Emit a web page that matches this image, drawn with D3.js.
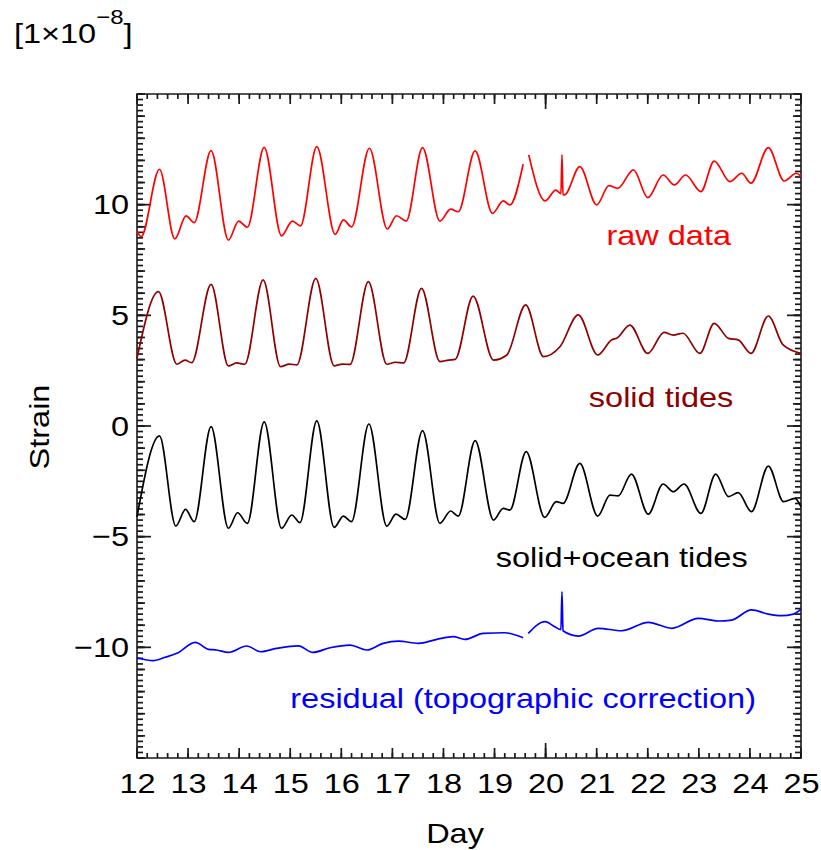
<!DOCTYPE html>
<html>
<head>
<meta charset="utf-8">
<script src="https://cdn.jsdelivr.net/npm/d3@7"></script>
<style>
  body { margin: 0; background: #fff; }
  text { font-family: "Liberation Sans", Arial, sans-serif; }
</style>
</head>
<body>
<div id="chart"></div>
<script>
// tick labels
const dayTicks = [12, 13, 14, 15, 16, 17, 18, 19, 20, 21, 22, 23, 24, 25];
const strainTicks = [-10, -5, 0, 5, 10];

// series: [day, strain (1e-8)], null = gap in the record
const rawData = [
  [12.00, 8.80], [12.08, 8.55], [12.44, 11.60], [12.74, 8.45], [12.96, 9.49], [13.12, 9.19],
  [13.45, 12.44], [13.79, 8.40], [13.99, 9.26], [14.16, 8.98], [14.49, 12.59], [14.83, 8.59],
  [15.04, 9.26], [15.20, 9.04], [15.52, 12.62], [15.88, 8.66], [16.04, 9.31], [16.20, 9.00],
  [16.55, 12.55], [16.90, 8.90], [17.08, 9.50], [17.27, 9.26], [17.59, 12.58], [17.93, 9.26],
  [18.14, 9.80], [18.29, 9.68], [18.62, 12.43], [18.96, 9.61], [19.17, 10.17], [19.30, 9.99],
  [19.56, 11.83], null, [19.67, 12.25], [19.99, 10.17], [20.20, 10.66], [20.30, 10.50],
  [20.32, 12.25], [20.34, 10.45], [20.37, 10.44], [20.67, 11.72], [21.00, 9.99], [21.24, 10.86],
  [21.41, 10.74], [21.72, 11.57], [22.00, 10.32], [22.30, 11.34], [22.52, 10.89], [22.74, 11.34],
  [23.04, 10.59], [23.30, 11.97], [23.61, 11.04], [23.84, 11.42], [24.02, 10.97], [24.36, 12.58],
  [24.67, 11.07], [24.91, 11.42], [25.00, 11.27]
];
const solidTides = [
  [12.00, 3.06], [12.42, 6.07], [12.78, 2.79], [12.94, 2.98], [13.07, 2.86], [13.45, 6.40],
  [13.79, 2.71], [13.95, 2.85], [14.11, 2.79], [14.47, 6.60], [14.81, 2.68], [14.98, 2.80],
  [15.13, 2.76], [15.50, 6.67], [15.86, 2.72], [16.02, 2.80], [16.17, 2.78], [16.53, 6.52],
  [16.89, 2.79], [17.06, 2.88], [17.22, 2.85], [17.57, 6.22], [17.93, 2.91], [18.10, 2.98],
  [18.23, 3.01], [18.58, 5.87], [18.98, 2.98], [19.24, 3.21], [19.61, 5.47], [19.96, 3.13],
  [20.28, 3.58], [20.64, 5.02], [21.02, 3.21], [21.29, 3.89], [21.40, 3.98], [21.65, 4.56],
  [22.00, 3.28], [22.32, 4.23], [22.50, 4.11], [22.69, 4.19], [23.02, 3.28], [23.30, 4.64],
  [23.58, 3.96], [23.77, 3.89], [24.02, 3.28], [24.36, 4.97], [24.65, 3.66], [25.00, 3.28]
];
const oceanTides = [
  [12.00, -4.10], [12.44, -0.45], [12.76, -4.52], [12.95, -3.77], [13.12, -4.32], [13.45, -0.03],
  [13.79, -4.62], [13.97, -3.92], [14.16, -4.40], [14.49, 0.19], [14.83, -4.62], [15.03, -4.02],
  [15.19, -4.37], [15.52, 0.23], [15.86, -4.58], [16.04, -4.07], [16.20, -4.32], [16.54, 0.09],
  [16.89, -4.52], [17.07, -3.98], [17.25, -4.22], [17.59, -0.21], [17.93, -4.40], [18.14, -3.84],
  [18.29, -4.07], [18.62, -0.66], [18.98, -4.25], [19.17, -3.72], [19.30, -3.80], [19.62, -1.16],
  [19.98, -4.13], [20.21, -3.42], [20.34, -3.50], [20.67, -1.69], [21.02, -4.07], [21.26, -3.12],
  [21.42, -3.16], [21.68, -2.17], [22.01, -3.98], [22.30, -2.62], [22.50, -2.97], [22.71, -2.62],
  [23.04, -3.95], [23.33, -2.17], [23.58, -3.19], [23.77, -3.01], [24.03, -3.87], [24.36, -1.81],
  [24.66, -3.42], [24.88, -3.27], [25.00, -3.65]
];
const residual = [
  [12.00, -10.47], [12.32, -10.60], [12.55, -10.45], [12.78, -10.27], [13.14, -9.78], [13.40, -10.09],
  [13.56, -10.12], [13.79, -10.23], [14.15, -9.94], [14.42, -10.20], [14.73, -10.05], [15.16, -9.93],
  [15.44, -10.23], [15.78, -10.02], [16.17, -9.90], [16.50, -10.12], [16.82, -9.82], [17.12, -9.72],
  [17.51, -9.82], [17.87, -9.64], [18.19, -9.52], [18.42, -9.64], [18.78, -9.37], [19.20, -9.34],
  [19.56, -9.57], null, [19.66, -9.37], [19.99, -8.84], [20.18, -9.07], [20.30, -9.20],
  [20.32, -7.49], [20.34, -9.25], [20.64, -9.49], [21.03, -9.14], [21.49, -9.25], [22.01, -8.87],
  [22.47, -9.14], [22.99, -8.69], [23.38, -8.81], [23.64, -8.77], [24.03, -8.31], [24.36, -8.50],
  [24.62, -8.57], [24.85, -8.50], [25.00, -8.27]
];

const series = [
  {name: "raw data", data: rawData, color: "#ff0000", at: [22.41, 8.18]},
  {name: "solid tides", data: solidTides, color: "#8f0000", at: [22.26, 0.87]},
  {name: "solid+ocean tides", data: oceanTides, color: "#000000", at: [21.49, -6.36]},
  {name: "residual (topographic correction)", data: residual, color: "#0000ff", at: [19.56, -12.76]}
];

const W = 821, H = 850;
const fs = 28.5, sx = 1.14; // text is a bit wide in the original
const m = {left: 137, top: 94, right: 801, bottom: 758};

const svg = d3.select("#chart").append("svg")
  .attr("width", W)
  .attr("height", H);

const x = d3.scaleLinear().domain([12, 25]).range([m.left, m.right]);
const y = d3.scaleLinear().domain([-15, 15]).range([m.bottom, m.top]);

const minorDays = d3.range(12, 25.001, 0.2);
const minorStrain = d3.range(-15, 15.001, 0.25);
const midStrain = d3.range(-15, 16, 1);

// frame
svg.append("path")
  .attr("d", `M${m.left},${m.top}H${m.right}V${m.bottom}H${m.left}Z`)
  .attr("fill", "none").attr("stroke", "#1a1a1a").attr("stroke-width", 1.6);

// ticks on all four sides, pointing inwards, as thin filled bars
const tw = 1.7;
const tickSpecs = [];
[[minorDays, 5], [dayTicks, 10], [[20], 15]].forEach(([vals, len]) => vals.forEach(v => {
  const px = x(v) - tw / 2;
  tickSpecs.push({x: px, y: m.bottom - len, w: tw, h: len});
  tickSpecs.push({x: px, y: m.top, w: tw, h: len});
}));
[[minorStrain, 6], [midStrain, 8], [strainTicks, 14]].forEach(([vals, len]) => vals.forEach(v => {
  const py = y(v) - tw / 2;
  tickSpecs.push({x: m.left, y: py, w: len, h: tw});
  tickSpecs.push({x: m.right - len, y: py, w: len, h: tw});
}));

svg.append("g").attr("class", "ticks")
  .selectAll("rect")
  .data(tickSpecs)
  .join("rect")
  .attr("x", d => d.x).attr("y", d => d.y)
  .attr("width", d => d.w).attr("height", d => d.h)
  .attr("fill", "#1a1a1a");

// tick labels via d3 axes (their tick marks have zero length)
const xg = svg.append("g").attr("transform", `translate(0,${m.bottom})`)
  .call(d3.axisBottom(x).tickValues(dayTicks).tickSize(0).tickPadding(15));
const yg = svg.append("g").attr("transform", `translate(${m.left},0)`)
  .call(d3.axisLeft(y).tickValues(strainTicks).tickSize(0).tickPadding(7)
    .tickFormat(d => d < 0 ? "\u2212" + (-d) : d));

[xg, yg].forEach(g => {
  g.select(".domain").remove();
  g.selectAll("text")
    .attr("font-size", fs)
    .attr("fill", "#000")
    .style("font-family", '"Liberation Sans", Arial, sans-serif')
    .attr("transform", `scale(${sx},1)`);
});

// curves
const line = d3.line()
  .defined(d => d != null)
  .x(d => x(d[0]))
  .y(d => y(d[1]))
  .curve(d3.curveMonotoneX);

svg.append("g").selectAll("path")
  .data(series)
  .join("path")
  .attr("d", s => line(s.data))
  .attr("fill", "none")
  .attr("stroke", s => s.color)
  .attr("stroke-width", 1.7)
  .attr("stroke-linejoin", "round");

// labels
function label(txt, px, py, anchor, color, rot) {
  return svg.append("text")
    .attr("transform", `translate(${px},${py})` + (rot ? ` rotate(${rot})` : "") + ` scale(${sx},1)`)
    .attr("text-anchor", anchor)
    .attr("font-size", fs)
    .attr("fill", color)
    .text(txt);
}

series.forEach(s => label(s.name, x(s.at[0]), y(s.at[1]), "middle", s.color));

label("Day", 455, 843, "middle", "#000");
label("Strain", 49, 427, "middle", "#000", -90);

const unit = label("[1\u00d710", 14, 43, "start", "#000");
unit.append("tspan").attr("font-size", 21).attr("dy", -19).text("\u22128");
unit.append("tspan").attr("dy", 19).text("]");
</script>
</body>
</html>
